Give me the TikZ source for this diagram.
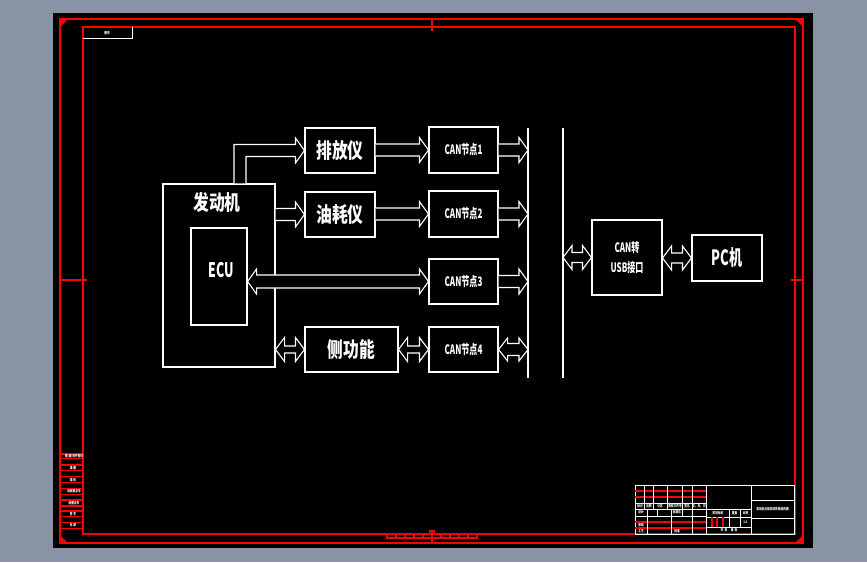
\documentclass[tikz,border=0pt]{standalone}
\usepackage{fontspec}
\newfontfamily\cadfont[FakeStretch=0.75]{Noto Sans CJK SC}
\newfontfamily\cadnarrow[FakeStretch=0.62]{Noto Sans CJK SC}
\usetikzlibrary{calc}
\definecolor{cadbg}{RGB}{136,148,166}
\definecolor{cadred}{RGB}{255,0,0}

\begin{document}
\begin{tikzpicture}[x=1pt,y=-1pt]
    % Style definitions
    \tikzset{
      blk/.style={draw=white, line width=1.1pt, inner sep=0pt},
      bigtxt/.style={text=white, font=\cadfont\bfseries\fontsize{21}{21}\selectfont},
      nodetxt/.style={text=white, font=\cadnarrow\bfseries\fontsize{13}{20}\selectfont, align=center},
      hollow/.style={draw=white, fill=black, line width=1.1pt, line join=miter},
      bus/.style={draw=white, line width=1.1pt},
      frm/.style={draw=cadred, line width=1.1pt},
      tb/.style={draw=white, line width=1pt},
      tbtxt/.style={text=white, font=\cadfont\bfseries\fontsize{3.6}{4}\selectfont, inner sep=0pt},
    }
    % ------------------------------------------------------------------
    % Hollow arrows: #1 tail, #2 head (horizontal, y taken from #2),
    % #3 half width of the shaft, #4 half width of the head
    % ------------------------------------------------------------------
    \newcommand{\onearrow}[4]{%
      \path[hollow] let \p1=#1, \p2=#2 in
        (\x1,\y2+#3pt) -- (\x2-9pt,\y2+#3pt) -- (\x2-9pt,\y2+#4pt) -- (\x2,\y2)
        -- (\x2-9pt,\y2-#4pt) -- (\x2-9pt,\y2-#3pt) -- (\x1,\y2-#3pt);
    }
    \newcommand{\twoarrow}[4]{%
      \path[hollow] let \p1=#1, \p2=#2 in
        (\x1,\y2) -- (\x1+9pt,\y2+#4pt) -- (\x1+9pt,\y2+#3pt) -- (\x2-9pt,\y2+#3pt)
        -- (\x2-9pt,\y2+#4pt) -- (\x2,\y2) -- (\x2-9pt,\y2-#4pt) -- (\x2-9pt,\y2-#3pt)
        -- (\x1+9pt,\y2-#3pt) -- (\x1+9pt,\y2-#4pt) -- cycle;
    }

    % Sheet and drawing frame
    \fill[cadbg] (0,0) rectangle (867,562);
    \fill[black] (53,13) rectangle (813,548);
    \draw[frm] (60,19) rectangle (803,543);
    \draw[frm] (83,27) rectangle (795,534);
    \fill[cadred] (60,19) -- (68,19) -- (60,27) -- cycle;
    \fill[cadred] (803,19) -- (795,19) -- (803,27) -- cycle;
    \fill[cadred] (60,543) -- (68,543) -- (60,535) -- cycle;
    \fill[cadred] (803,543) -- (795,543) -- (803,535) -- cycle;

    % Centre marks and scale bar
    \draw[frm] (432,19) -- (432,31);
    \draw[frm] (60,280) -- (87,280);
    \draw[frm] (791,280) -- (803,280);
    \draw[frm] (432,530) -- (432,543);
    \draw[frm] (429.5,534) -- (429.5,531) -- (434.5,531) -- (434.5,534);
    \draw[frm] (387,534) rectangle (477,538);
    \foreach \i in {1,...,9}
      \draw[frm] ({387+9*\i},534) -- ({387+9*\i},538);

    % Drawing number box, top left
    \draw[tb] (83,38) -- (132,38) -- (132,27);
    \node[tbtxt] (dwgno) at (107,33) {图号};

    % Binding strip, bottom left
    \foreach \yy in {454,458.3,465,470.7,476.7,482.7,488.3,494.3,500,506,511,516.7,522.7,528.3}
      \draw[frm] (60,\yy) -- (83,\yy);
    \node[tbtxt] (st1) at (74,456.2) {借(通)用件登记};
    \node[tbtxt] (st2) at (73,467.8) {描\ 图};
    \node[tbtxt] (st3) at (73,479.7) {描\ 校};
    \node[tbtxt] (st4) at (74,491.3) {旧底图总号};
    \node[tbtxt] (st5) at (74,503) {底图总号};
    \node[tbtxt] (st6) at (73,513.8) {签\ 字};
    \node[tbtxt] (st7) at (73,525.5) {日\ 期};

    % Title block, bottom right
    \draw[tb] (635,485) rectangle (794,534);
    \draw[tb] (706,485) -- (706,534);
    \draw[tb] (751,485) -- (751,534);
    \foreach \yy in {491,497,522,528}
      \draw[frm] (635,\yy) -- (706,\yy);
    \foreach \yy in {503,509,516}
      \draw[tb] (635,\yy) -- (706,\yy);
    \foreach \xx in {644,653,667,682,692}
      \draw[tb] (\xx,485) -- (\xx,509);
    \foreach \xx in {647,671,692}
      \draw[tb] (\xx,509) -- (\xx,534);
    \foreach \xx in {657,682}
      \draw[tb] (\xx,509) -- (\xx,516);
    \draw[tb] (706,509) -- (751,509);
    \draw[tb] (706,517) -- (751,517);
    \draw[tb] (706,527) -- (751,527);
    \draw[tb] (729,509) -- (729,527);
    \draw[tb] (740,509) -- (740,527);
    \foreach \xx in {712,717,723}
      \draw[frm] (\xx,517) -- (\xx,527);
    \draw[tb] (751,500) -- (794,500);
    \draw[tb] (751,518) -- (794,518);
    \node[tbtxt] (tb1) at (640,506) {标记};
    \node[tbtxt] (tb2) at (649,506) {处数};
    \node[tbtxt] (tb3) at (660,506) {分区};
    \node[tbtxt] (tb4) at (675,506) {更改文件号};
    \node[tbtxt] (tb5) at (687,506) {签名};
    \node[tbtxt] (tb6) at (699,506) {年、月、日};
    \node[tbtxt] (tb7) at (641,512.5) {设计};
    \node[tbtxt] (tb8) at (677,512.5) {标准化};
    \node[tbtxt] (tb9) at (641,525) {审核};
    \node[tbtxt] (tb10) at (641,531) {工艺};
    \node[tbtxt] (tb11) at (677,531) {批准};
    \node[tbtxt] (tb12) at (718,513) {阶段标记};
    \node[tbtxt] (tb13) at (734.5,513) {重量};
    \node[tbtxt] (tb14) at (745.5,513) {比例};
    \node[tbtxt] (tb15) at (745.5,522) {1:1};
    \node[tbtxt] (tb16) at (729,530.5) {共\ \ 张\quad 第\ \ 张};
    \node[tbtxt] (tb17) at (772.5,509) {发动机台架测试系统结构图};

    % Engine with its ECU
    \node[blk, minimum width=112pt, minimum height=183pt] (engine) at (219,275.5) {};
    \node[bigtxt] (engine label) at (217,202) {发动机};
    \node[blk, minimum width=56pt, minimum height=97pt] (ecu) at (219,276.5) {};
    \node[bigtxt, font=\cadnarrow\bfseries\fontsize{20}{20}\selectfont] (ecu label) at (221,270) {ECU};

    % Instruments
    \node[blk, bigtxt, minimum width=70pt, minimum height=45pt] (pfy) at (340,150.5) {排放仪};
    \node[blk, bigtxt, minimum width=70pt, minimum height=45pt] (yhy) at (340,214.5) {油耗仪};
    \node[blk, bigtxt, minimum width=93pt, minimum height=45pt] (cgn) at (351.5,349.5) {侧功能};

    % CAN nodes
    \node[blk, nodetxt, minimum width=69pt, minimum height=46pt] (can1) at (463.5,150) {CAN节点1};
    \node[blk, nodetxt, minimum width=69pt, minimum height=46pt] (can2) at (463.5,214) {CAN节点2};
    \node[blk, nodetxt, minimum width=69pt, minimum height=45pt] (can3) at (463.5,281.5) {CAN节点3};
    \node[blk, nodetxt, minimum width=69pt, minimum height=45pt] (can4) at (463.5,349.5) {CAN节点4};

    % CAN bus
    \coordinate (busl top) at (528,128);
    \coordinate (busl bot) at (528,378);
    \coordinate (busr top) at (563,128);
    \coordinate (busr bot) at (563,378);
    \draw[bus] (busl top) -- (busl bot);
    \draw[bus] (busr top) -- (busr bot);

    % Interface and PC
    \node[blk, nodetxt, minimum width=70pt, minimum height=75pt] (usb) at (627,257.5) {CAN转\\USB接口};
    \node[blk, bigtxt, font=\cadnarrow\bfseries\fontsize{21}{21}\selectfont, minimum width=70pt, minimum height=46pt] (pc) at (727,258) {PC机};

    % Arrows
    \path[hollow] let \p1=(engine.north), \p2=(pfy.west) in
      (\x1+15pt,\y1) -- (\x1+15pt,\y2+6pt) -- (\x2-9pt,\y2+6pt) -- (\x2-9pt,\y2+12.5pt)
      -- (\p2) -- (\x2-9pt,\y2-12.5pt) -- (\x2-9pt,\y2-6pt) -- (\x1+27pt,\y2-6pt) -- (\x1+27pt,\y1);
    \onearrow{(engine.east)}{(yhy.west)}{6}{12.5}
    \onearrow{(pfy.east)}{(can1.west)}{6}{12.5}
    \onearrow{(yhy.east)}{(can2.west)}{6}{12.5}
    \twoarrow{(ecu.east)}{(can3.west)}{6.5}{12.5}
    \twoarrow{(engine.east)}{(cgn.west)}{3.5}{12}
    \twoarrow{(cgn.east)}{(can4.west)}{3.5}{12}
    \onearrow{(can1.east)}{(can1.east -| busl top)}{6}{12.5}
    \onearrow{(can2.east)}{(can2.east -| busl top)}{6}{12.5}
    \onearrow{(can3.east)}{(can3.east -| busl top)}{6}{12.5}
    \twoarrow{(can4.east)}{(can4.east -| busl top)}{6}{11.5}
    \twoarrow{(usb.west -| busr top)}{(usb.west)}{5}{12}
    \twoarrow{(usb.east)}{(pc.west)}{5}{12}
\end{tikzpicture}
\end{document}
